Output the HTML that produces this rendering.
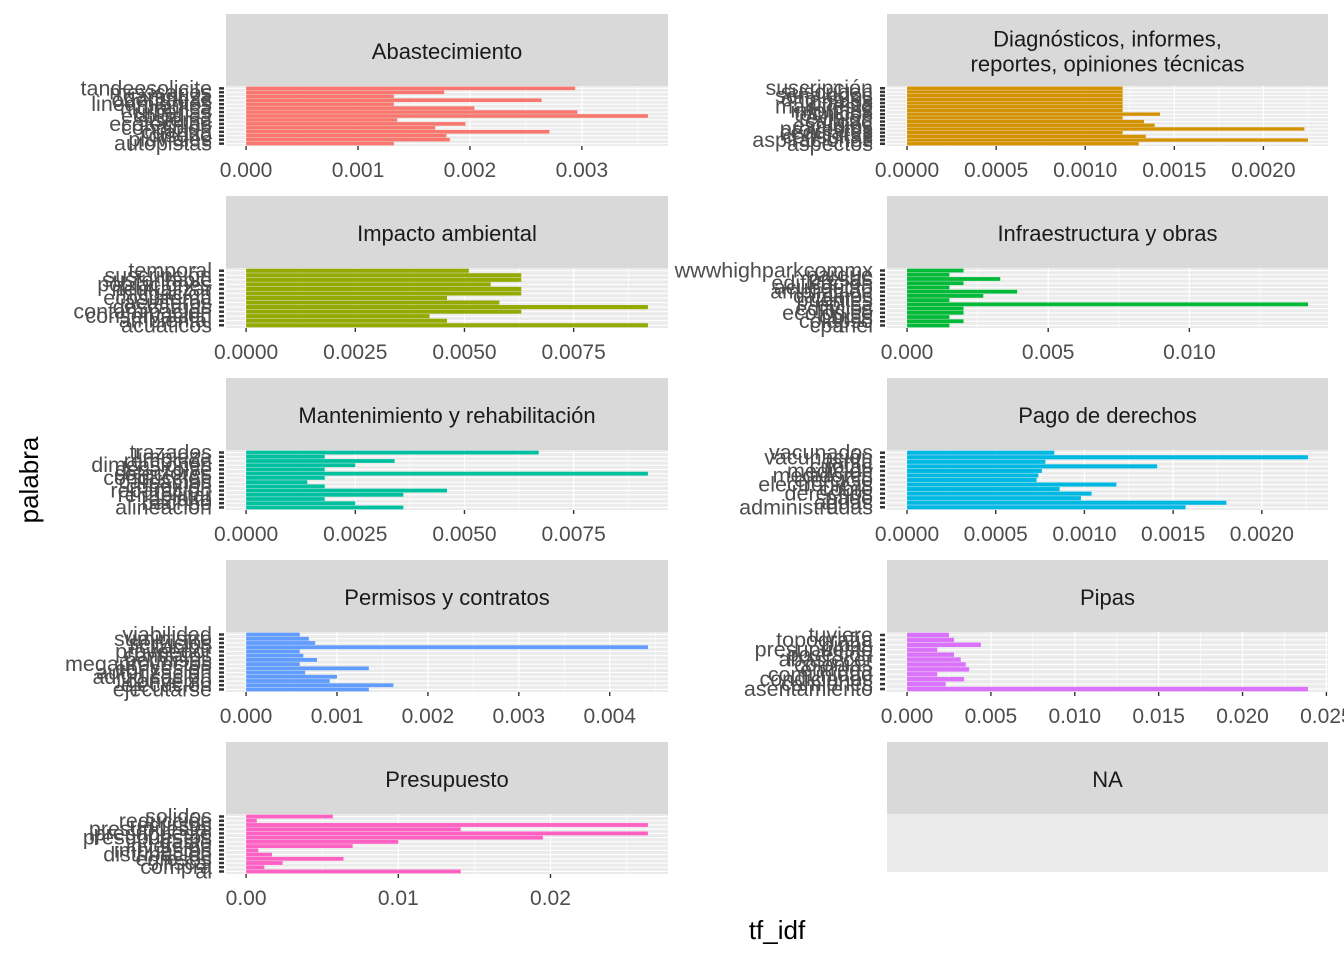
<!DOCTYPE html>
<html><head><meta charset="utf-8"><style>
body{margin:0;background:#fff;}
svg{font-family:"Liberation Sans",sans-serif;}
</style></head><body>
<svg id="c" width="1344" height="960" xmlns="http://www.w3.org/2000/svg"></svg>
<script>
const panelTitles=[["Abastecimiento"],["Diagnósticos, informes,","reportes, opiniones técnicas"],["Impacto ambiental"],["Infraestructura y obras"],["Mantenimiento y rehabilitación"],["Pago de derechos"],["Permisos y contratos"],["Pipas"],["Presupuesto"],["NA"]];
const colors=["#F8766D","#D39200","#93AA00","#00BA38","#00C19F","#00B9E3","#619CFF","#DB72FB","#FF61C3"];
const vals0=[.00294,.00177,.00132,.00264,.00132,.00204,.00296,.00359,.00135,.00196,.00169,.00271,.00179,.00182,.00132];
const vals1=[.00121,.00121,.00121,.00121,.00121,.00121,.00121,.00142,.00121,.00133,.00139,.00223,.00121,.00134,.00225,.0013];
const vals2=[.0051,.0063,.0063,.0056,.0063,.0063,.0046,.0058,.0092,.0063,.0042,.0046,.0092];
const vals3=[.0020,.0015,.0033,.0020,.0015,.0039,.0027,.0015,.0142,.0020,.0020,.0015,.0020,.0015];
const vals4=[.0067,.0018,.0034,.0025,.0018,.0092,.0018,.0014,.0018,.0046,.0036,.0018,.0025,.0036];
const vals5=[.00083,.00226,.00078,.00141,.00076,.00074,.00073,.00118,.00086,.00104,.00098,.0018,.00157];
const vals6=[.00059,.00069,.00076,.00442,.00059,.00063,.00078,.00059,.00135,.00065,.001,.00092,.00162,.00135];
const vals7=[.0025,.0028,.0044,.0018,.0028,.0032,.0035,.0037,.0018,.0034,.0023,.0239];
const vals8=[.0057,.0007,.0264,.0141,.0264,.0195,.01,.007,.0008,.0017,.0064,.0024,.0012,.0141];
const words0=["tandeesolicite","mexicanos","garantiza","orientadas","lineamientos","hidráulica","urbanas","ecológica","sistema","ecotécnias","condición","cuantía","diseño","pluviales","autopistas"];
const words1=["suscripción","suscriben","señalados","originales","planos","manifiesto","informes","técnicos","revisión","calidad","estudios","proyectos","cedulares","consultas","aspiraciones","aspectos"];
const words2=["temporal","suscripción","sustentable","poblaciones","neutralizar","mitigación","ecosistema","acuíferos","descargas","contaminación","conservación","ambiental","acuáticos"];
const words3=["wwwhighparkcommx","parque","presas","edificación","acueducto","ampliación","caminos","puentes","eólica","edificios","ecológico","obras","colapso","cpanel"];
const words4=["trazados","limpieza","remoción","dimensiones","desazolve","colectores","conducción","cárcamos","conexión","reparación","rehabilitar","asfalto","bacheo","alineación"];
const words5=["vacunados","vacunación","tarifa","cuotas","medición","medidores","ejercicio","electrónicas","cobro","derechos","pago","aguas","administradas"];
const words6=["viabilidad","suministro","servicios","licitación","proveedor","contratos","permisos","megaproyectos","concesión","autorización","adjudicación","convenio","ejecución","ejecutarse"];
const words7=["tuviere","topografía","pipas","presupuesto","posesión","abastecer","colonias","entrega","comunidad","condiciones","camiones","asentamiento"];
const words8=["solidos","reducción","recursos","presupuestal","presupuesto","presupuestos","gasto","inversión","impuestos","distribución","egresos","fiscal","compra","al"];
const valsAll=[vals0,vals1,vals2,vals3,vals4,vals5,vals6,vals7,vals8];
const wordsAll=[words0,words1,words2,words3,words4,words5,words6,words7,words8];
const ticks0=[0,.001,.002,.003], tl0=["0.000","0.001","0.002","0.003"];
const ticks1=[0,.0005,.001,.0015,.002], tl1=["0.0000","0.0005","0.0010","0.0015","0.0020"];
const ticks2=[0,.0025,.005,.0075], tl2=["0.0000","0.0025","0.0050","0.0075"];
const ticks3=[0,.005,.01], tl3=["0.000","0.005","0.010"];
const ticks4=[0,.0025,.005,.0075], tl4=["0.0000","0.0025","0.0050","0.0075"];
const ticks5=[0,.0005,.001,.0015,.002], tl5=["0.0000","0.0005","0.0010","0.0015","0.0020"];
const ticks6=[0,.001,.002,.003,.004], tl6=["0.000","0.001","0.002","0.003","0.004"];
const ticks7=[0,.005,.01,.015,.02,.025], tl7=["0.000","0.005","0.010","0.015","0.020","0.025"];
const ticks8=[0,.01,.02], tl8=["0.00","0.01","0.02"];
const ticksAll=[ticks0,ticks1,ticks2,ticks3,ticks4,ticks5,ticks6,ticks7,ticks8];
const tlAll=[tl0,tl1,tl2,tl3,tl4,tl5,tl6,tl7,tl8];

const svg=document.getElementById('c');
const NS="http://www.w3.org/2000/svg";
function mk(tag,attrs,parent){const e=document.createElementNS(NS,tag);for(const k in attrs)e.setAttribute(k,attrs[k]);(parent||svg).appendChild(e);return e;}
const colX=[226,887], W=[442,441];
for(let p=0;p<10;p++){
  const col=p%2,row=Math.floor(p/2);
  const x0=colX[col],w=W[col],sy=14+182*row;
  const g=mk('g',{});
  
  
  const strip=mk('rect',{x:x0,y:sy,width:w,height:72,fill:'#D9D9D9'},g);
  
  
  const tl=panelTitles[p];
  tl.forEach((t,i)=>{const tx=mk('text',{x:x0+w/2,y:sy+36+(i-(tl.length-1)/2)*25+9,'text-anchor':'middle','font-size':22,fill:'#1A1A1A'},g);tx.textContent=t;
    
    });
  const py=sy+72, ph=p===9?58:60;
  const bg=mk('rect',{x:x0,y:py,width:w,height:ph,fill:'#EBEBEB'},g);
  
  
  if(p===9) continue;
  const vals=valsAll[p],words=wordsAll[p],ticks=ticksAll[p],tls=tlAll[p];
  const M=Math.max(...vals);
  const xs=v=>x0+w*(v+0.05*M)/(1.1*M);
  const n=vals.length, step=ph/(n-1+1.2);
  const yc=i=>py+step*(0.6+i);
  for(let i=0;i<ticks.length;i++){
    const mv=ticks[i]+(ticks[1]-ticks[0])/2;
    if(xs(mv)<x0+w) mk('line',{x1:xs(mv),x2:xs(mv),y1:py,y2:py+ph,stroke:'#fff','stroke-width':0.6},g);
  }
  ticks.forEach(t=>{if(xs(t)<=x0+w) mk('line',{x1:xs(t),x2:xs(t),y1:py,y2:py+ph,stroke:'#fff','stroke-width':1.2},g);});
  for(let i=0;i<n;i++) mk('line',{x1:x0,x2:x0+w,y1:yc(i),y2:yc(i),stroke:'#fff','stroke-width':1.1},g);
  for(let i=0;i<n;i++){
    const b=mk('rect',{x:xs(0),y:yc(i)-step*0.45,width:xs(vals[i])-xs(0),height:step*0.9,fill:colors[p]},g);
    
    
    mk('line',{x1:x0-7,x2:x0-2,y1:yc(i),y2:yc(i),stroke:'#333','stroke-width':2.5},g);
    const lt=mk('text',{x:x0-14,y:yc(i)+7,'text-anchor':'end','font-size':21.5,fill:'#4D4D4D'},g);
    lt.textContent=words[i];
    
    
  }
  ticks.forEach((t,i)=>{
    mk('line',{x1:xs(t),x2:xs(t),y1:py+ph,y2:py+ph+4,stroke:'#333','stroke-width':1.4},g);
    const tt=mk('text',{x:xs(t),y:py+ph+31,'text-anchor':'middle','font-size':21,fill:'#4D4D4D'},g);
    tt.textContent=tls[i];
    
    
  });
}
const xt=mk('text',{x:777,y:939,'text-anchor':'middle','font-size':26,fill:'#000'});
xt.textContent='tf_idf';


const yt=mk('text',{x:0,y:0,transform:'translate(38,480) rotate(-90)','text-anchor':'middle','font-size':26,fill:'#000'});
yt.textContent='palabra';


</script>
</body></html>
